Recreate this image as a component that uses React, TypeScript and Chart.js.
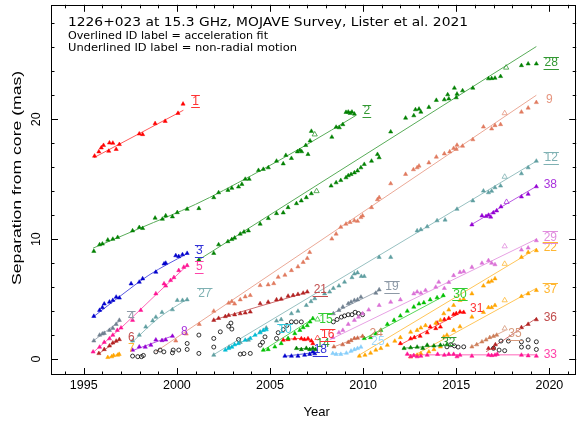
import React, { useEffect, useRef } from 'react';
import { Chart, registerables } from 'chart.js';

Chart.register(...registerables);

type Pt = [number, number];

// Axis ranges (epoch in years, separation in mas)
const X_MIN = 1993.24;
const X_MAX = 2021.44;
const Y_MIN = -1.33;
const Y_MAX = 29.54;
const X_MAJOR = [1995, 2000, 2005, 2010, 2015, 2020];
const Y_MAJOR = [0, 10, 20];

const TITLE = '1226+023 at 15.3 GHz, MOJAVE Survey, Lister et al. 2021';
const NOTE_OVER = 'Overlined ID label = acceleration fit';
const NOTE_UNDER = 'Underlined ID label = non-radial motion';
const X_TITLE = 'Year';
const Y_TITLE = 'Separation from core (mas)';

// ---- component tracks: [epoch, separation] ----
const c01: Pt[] = [[1995.58,16.93],[1995.81,17.29],[1995.94,17.62],[1996.06,17.82],[1996.34,17.34],[1996.38,18.03],[1996.56,18.01],[1996.74,17.49],[1996.91,17.9],[1997.98,18.78],[1998.16,18.73],[1998.83,19.64],[1999.37,19.83],[2000.06,20.5],[2000.33,21.27]];
const f01: Pt[] = [[1995.55,16.8],[2000.35,20.75]];

const c02: Pt[] = [[1995.54,8.99],[1995.85,9.54],[1996.0,9.6],[1996.29,9.93],[1996.56,10.0],[1996.82,10.15],[1997.62,10.7],[1997.98,10.98],[1998.16,10.9],[1998.83,11.76],[1999.22,11.67],[1999.4,11.95],[1999.76,11.87],[2000.02,12.22],[2000.55,12.5],[2001.18,12.56],[2001.98,13.47],[2002.24,13.88],[2002.74,14.08],[2002.95,14.25],[2003.31,14.36],[2003.49,14.58],[2003.67,15.0],[2003.88,15.0],[2004.38,15.74],[2004.64,15.83],[2004.91,15.96],[2005.35,16.51],[2005.71,16.29],[2005.85,16.99],[2006.15,16.74],[2006.47,17.29],[2006.6,17.4],[2006.7,17.3],[2006.92,17.82],[2007.04,17.07],[2007.15,18.2],[2007.22,19.0],[2008.32,18.51],[2008.55,19.34],[2008.72,19.3],[2008.91,19.56],[2009.08,20.58],[2009.2,20.6],[2009.3,20.5],[2009.4,20.6],[2009.53,20.44]];
const o02: Pt[] = [[2007.4,18.73]];
const f02: Pt[] = [[1995.5,9.25],[1998,10.9],[2001,12.9],[2004,15.3],[2007,17.9],[2009.6,20.3]];

const c03: Pt[] = [[1995.54,3.57],[1995.85,4.07],[1996.0,4.3],[1996.1,4.6],[1996.38,4.76],[1996.56,4.9],[1996.74,5.17],[1996.91,5.1],[1997.54,6.28],[1997.98,6.42],[1998.16,6.7],[1998.87,7.25],[1999.31,7.94],[1999.4,8.0],[1999.94,8.63],[2000.1,8.55],[2000.3,8.71],[2000.55,8.82]];
const f03: Pt[] = [[1995.5,3.5],[1997,5.3],[1998.5,7.0],[2000.55,8.8]];

const c04: Pt[] = [[1995.54,1.52],[1995.85,2.0],[1996.0,2.1],[1996.1,2.15],[1996.38,2.4],[1996.56,2.57],[1996.74,2.9],[1996.91,3.24]];
const f04: Pt[] = [[1995.5,1.5],[1996.95,3.2]];

const c05: Pt[] = [[1995.5,0.6],[1995.85,1.0],[1996.1,1.4],[1996.38,1.7],[1996.56,2.0],[1996.8,2.4],[1997.0,2.6],[1997.62,3.24],[1998.06,4.07],[1998.87,5.45],[1999.31,6.28],[1999.4,6.1],[1999.66,6.56],[1999.84,6.8],[2000.1,7.39],[2000.37,7.66],[2000.55,7.8]];
const f05: Pt[] = [[1995.5,0.55],[1997,2.6],[1998.9,5.4],[2000.55,7.8]];

const c06: Pt[] = [[1995.81,0.47],[1996.1,0.8],[1996.38,1.1],[1996.56,1.35],[1996.74,1.5],[1996.91,1.63]];
const f06: Pt[] = [[1995.8,0.45],[1996.95,1.65]];

const c07: Pt[] = [[1996.29,0.14],[1996.5,0.2],[1996.6,0.3],[1996.82,0.33],[1996.9,0.4]];
const f07: Pt[] = [[1996.25,0.1],[1996.95,0.45]];

const c08: Pt[] = [[1997.62,0.75],[1997.98,1.02],[1998.3,1.0],[1998.6,1.16],[1998.87,1.6],[1999.2,1.55],[1999.4,1.6],[1999.76,1.91]];
const f08: Pt[] = [[1997.6,0.7],[1999.8,1.95]];

const c09: Pt[] = [[1999.94,1.52],[2000.5,2.1],[2001.2,2.9],[2001.98,4.0],[2002.78,4.67],[2002.95,4.8],[2003.1,4.6],[2003.4,4.95],[2003.67,5.2],[2003.94,5.31],[2004.47,6.14],[2004.9,6.2],[2005.2,6.3],[2005.44,6.83],[2005.8,7.0],[2006.15,7.39],[2006.5,7.7],[2006.78,8.07],[2007.0,8.4],[2007.13,8.9],[2008.32,10.02],[2008.55,10.43],[2008.8,11.0],[2009.08,11.26],[2009.3,11.4],[2009.53,11.54],[2009.7,11.5],[2009.88,11.81],[2009.97,11.95],[2010.45,12.64],[2010.77,13.3],[2010.86,13.47],[2011.48,14.63],[2012.28,15.41],[2012.7,15.8],[2012.9,15.96],[2013.0,16.1],[2013.53,16.37],[2013.93,16.85],[2014.36,17.12],[2014.65,17.29],[2014.86,17.57],[2015.0,17.5],[2015.04,17.84],[2015.34,17.76],[2015.89,18.3],[2016.46,19.36],[2016.9,19.2],[2017.08,19.48],[2017.38,19.56],[2018.5,20.6],[2018.86,20.94],[2019.3,21.4]];
const o09: Pt[] = [[2017.6,20.5]];
const f09: Pt[] = [[1998.85,0.6],[2019.3,22.0]];

const c10: Pt[] = [[2002.6,0.75],[2002.78,0.89],[2002.95,1.0],[2003.1,1.2],[2003.3,1.3],[2003.67,1.58],[2003.94,1.72],[2004.2,2.0],[2004.47,2.2],[2004.64,2.4],[2004.8,2.45]];
const f10: Pt[] = [[2002.55,0.7],[2004.8,2.45]];

const c12: Pt[] = [[2001.98,0.33],[2002.8,1.0],[2003.4,1.4],[2003.84,1.58],[2004.47,2.27],[2004.8,2.6],[2005.35,3.18],[2005.6,3.3],[2006.15,3.79],[2006.5,4.0],[2006.95,4.48],[2007.2,4.8],[2007.4,5.04],[2007.93,5.45],[2008.2,5.6],[2008.4,5.9],[2008.7,6.1],[2009.0,6.42],[2009.4,6.8],[2009.53,7.11],[2009.7,7.2],[2009.9,6.9],[2010.06,6.9],[2010.86,8.49],[2011.48,8.49],[2012.9,10.7],[2013.1,10.8],[2013.44,11.04],[2013.97,11.54],[2014.4,11.6],[2015.04,12.5],[2015.89,13.2],[2016.46,14.02],[2016.73,13.88],[2016.9,14.0],[2017.08,14.3],[2017.38,14.44],[2018.5,15.46],[2018.86,15.96],[2019.3,16.51]];
const o12: Pt[] = [[2017.6,15.2]];
const f12: Pt[] = [[2001.9,0.3],[2019.3,16.5]];

const c14: Pt[] = [[2006.42,0.89],[2006.68,0.8],[2006.95,0.9],[2007.13,0.8],[2007.3,0.9],[2007.45,0.8]];
const f14: Pt[] = [[2006.4,0.88],[2007.45,0.86]];

const c15: Pt[] = [[2004.64,0.75],[2004.9,0.8],[2005.26,1.02],[2005.6,1.3],[2005.97,1.72],[2006.33,2.13],[2006.6,2.4],[2006.78,2.63],[2007.0,2.8],[2007.15,3.1],[2007.3,3.38]];
const o15: Pt[] = [[2007.55,3.3]];
const f15: Pt[] = [[2004.6,0.7],[2007.35,3.4]];

const c16: Pt[] = [[2005.71,1.58],[2005.97,1.63],[2006.33,1.7],[2006.68,1.7],[2006.85,1.63],[2007.04,1.7],[2007.22,1.52],[2007.3,1.3]];
const o16: Pt[] = [[2007.55,1.75]];
const f16: Pt[] = [[2005.7,1.6],[2006.5,1.72],[2007.3,1.5]];

const c18: Pt[] = [[2005.8,0.25],[2006.15,0.25],[2006.5,0.25],[2006.86,0.33],[2007.13,0.4],[2007.3,0.6],[2007.4,0.45]];
const f18: Pt[] = [[2005.75,0.22],[2007.4,0.55]];

const c19: Pt[] = [[2008.4,3.79],[2008.7,4.07],[2008.91,4.34],[2009.2,4.62],[2009.35,4.75],[2009.53,4.9],[2009.7,4.95],[2009.88,5.17],[2010.68,5.5],[2010.86,5.78]];
const f19: Pt[] = [[2008.35,3.8],[2010.9,5.75]];

const c21: Pt[] = [[2001.98,3.24],[2002.24,3.4],[2002.6,3.55],[2002.78,3.65],[2003.1,3.7],[2003.4,3.79],[2003.67,3.85],[2003.94,3.93],[2004.47,4.62],[2004.9,4.75],[2005.35,4.95],[2005.6,5.0],[2005.97,5.25],[2006.24,5.31],[2006.5,5.4],[2006.78,5.5],[2007.0,5.6]];
const f21: Pt[] = [[2001.95,3.25],[2007.05,5.6]];

const c22: Pt[] = [[2009.8,0.25],[2010.1,0.33],[2010.4,0.5],[2010.68,0.75],[2010.95,0.89],[2011.3,1.16],[2011.7,1.5],[2012.0,1.8],[2012.55,2.25],[2012.9,2.4],[2013.1,2.6],[2013.35,2.8],[2013.9,3.0],[2014.15,3.24],[2014.33,3.79],[2014.6,4.1],[2014.86,4.48],[2015.2,4.9],[2015.4,5.0],[2015.84,5.45],[2016.46,6.1],[2016.73,6.42],[2016.9,6.5],[2017.08,6.7],[2018.5,8.49],[2018.86,8.9],[2019.3,9.05]];
const o22: Pt[] = [[2017.6,7.94]];
const f22: Pt[] = [[2009.7,0.25],[2019.3,9.2]];

const c24: Pt[] = [[2008.43,1.02],[2008.9,1.2],[2009.2,1.4],[2009.35,1.55],[2009.53,1.72],[2009.7,1.75],[2009.97,1.9]];
const f24: Pt[] = [[2008.4,1.0],[2010.0,1.95]];

const c25: Pt[] = [[2008.37,0.47],[2008.55,0.4],[2008.8,0.4],[2009.1,0.5],[2009.35,0.67],[2009.53,0.8],[2009.7,0.89],[2009.88,1.0]];
const f25: Pt[] = [[2008.3,0.45],[2009.0,0.45],[2009.9,1.0]];

const c27: Pt[] = [[1997.62,1.52],[1997.98,2.0],[1998.33,2.68],[1998.7,3.2],[1998.87,3.5],[1999.2,3.9],[1999.76,4.12],[2000.02,4.9],[2000.3,4.9],[2000.55,4.95]];
const f27: Pt[] = [[1997.6,1.4],[1999.0,3.4],[2000.55,5.0]];

const c28: Pt[] = [[2001.18,8.27],[2001.98,8.82],[2002.24,9.54],[2002.74,9.8],[2002.95,9.98],[2003.1,10.1],[2003.4,10.43],[2003.6,10.6],[2003.84,10.7],[2004.47,11.26],[2004.91,11.73],[2005.35,12.14],[2005.71,12.2],[2005.97,12.64],[2006.42,12.97],[2006.68,13.2],[2006.95,13.47],[2007.22,13.8],[2008.28,14.44],[2008.55,14.71],[2008.8,14.9],[2009.08,15.13],[2009.2,15.3],[2009.35,15.4],[2009.53,15.54],[2009.7,15.7],[2009.88,15.96],[2010.06,16.24],[2010.45,16.51],[2010.77,17.07],[2010.86,16.8],[2011.48,18.95],[2012.28,20.1],[2012.72,20.3],[2012.81,20.8],[2013.0,20.85],[2013.1,20.6],[2013.53,21.0],[2013.93,21.58],[2014.36,21.63],[2014.54,22.05],[2014.6,21.7],[2014.9,22.6],[2015.0,21.8],[2015.04,22.1],[2015.34,22.38],[2015.89,22.6],[2016.73,23.38],[2016.9,23.4],[2017.08,23.43],[2017.38,23.57],[2018.5,24.48],[2018.86,24.62],[2019.3,24.62]];
const o28: Pt[] = [[2007.5,14.0],[2017.68,24.3]];
const f28: Pt[] = [[2001.2,8.3],[2019.3,26.06]];

const c29: Pt[] = [[2008.37,1.8],[2008.7,2.2],[2008.91,2.4],[2009.2,2.9],[2009.53,3.24],[2009.75,3.5],[2009.97,3.79],[2010.3,4.1],[2010.86,4.48],[2011.48,4.75],[2012.0,4.95],[2012.72,5.45],[2012.9,5.6],[2013.1,5.5],[2013.35,5.73],[2013.9,6.0],[2014.06,6.42],[2014.36,5.9],[2014.6,6.4],[2014.86,6.97],[2015.2,7.24],[2015.4,7.3],[2015.84,7.66],[2016.38,8.0],[2016.73,8.22],[2016.9,8.0],[2017.08,7.88],[2018.5,9.1],[2018.86,9.27],[2019.3,9.88]];
const o29: Pt[] = [[2017.6,9.4]];
const f29: Pt[] = [[2008.2,1.6],[2019.3,10.0]];

const c30: Pt[] = [[2010.06,1.72],[2010.4,1.8],[2010.68,2.1],[2010.95,2.4],[2011.3,2.9],[2011.66,3.24],[2012.0,3.6],[2012.37,4.0],[2012.72,4.34],[2013.0,4.6],[2013.26,4.7],[2013.6,4.95],[2013.97,5.12],[2014.3,5.3]];
const f30: Pt[] = [[2010.0,1.65],[2014.4,5.3]];

const c31: Pt[] = [[2012.0,1.3],[2012.55,1.7],[2012.75,1.8],[2013.06,1.91],[2013.44,2.2],[2013.6,2.68],[2013.9,2.55],[2013.97,3.01],[2014.15,2.68],[2014.36,3.3],[2014.6,3.4],[2014.86,3.73],[2015.0,3.8],[2015.2,3.93],[2015.4,3.9]];
const f31: Pt[] = [[2012.0,1.2],[2015.4,4.0]];

const c32: Pt[] = [[2012.2,0.89],[2012.55,0.95],[2012.9,1.0],[2013.2,0.9],[2013.44,1.16],[2013.8,1.1],[2014.15,1.16],[2014.5,1.2]];
const f32: Pt[] = [[2012.1,0.9],[2014.5,1.15]];

const c33: Pt[] = [[2012.37,0.41],[2012.55,0.2],[2012.72,0.3],[2012.9,0.2],[2013.1,0.25],[2013.44,0.33],[2014.0,0.4],[2014.36,0.33],[2014.6,0.4],[2014.86,0.4],[2015.04,0.2],[2015.2,0.33],[2015.84,0.25],[2016.73,0.33],[2016.9,0.3],[2017.08,0.33],[2017.2,0.4],[2018.5,0.33],[2018.86,0.28],[2019.3,0.25]];
const f33: Pt[] = [[2012.3,0.35],[2019.3,0.35]];

const c35: Pt[] = [[2015.84,1.02],[2016.1,1.2],[2016.38,1.44],[2016.6,1.6],[2016.8,1.8],[2017.0,1.9],[2017.17,2.0]];
const o35: Pt[] = [[2017.6,2.55]];
const f35: Pt[] = [[2015.8,1.0],[2017.65,2.4]];

const c36: Pt[] = [[2016.73,0.89],[2017.0,0.9],[2017.1,1.2],[2018.5,2.63],[2018.86,2.9],[2019.3,3.29]];
const f36: Pt[] = [[2016.6,0.6],[2019.3,3.4]];

const c37: Pt[] = [[2012.55,0.19],[2012.9,0.33],[2013.1,0.45],[2013.53,0.6],[2013.8,0.8],[2014.15,1.02],[2014.33,1.85],[2014.5,2.0],[2014.86,2.4],[2015.2,2.7],[2015.84,3.51],[2016.46,3.9],[2016.73,4.3],[2016.9,4.3],[2017.08,4.48],[2018.5,5.23],[2018.86,5.45],[2019.3,5.73]];
const o37: Pt[] = [[2017.6,4.9]];
const f37: Pt[] = [[2012.5,0.1],[2019.3,5.9]];

const c38: Pt[] = [[2015.84,11.2],[2016.38,11.95],[2016.6,11.9],[2016.73,12.0],[2016.85,11.85],[2016.99,12.2],[2017.17,12.37],[2017.4,12.7],[2018.5,13.53],[2018.86,13.75],[2019.3,14.38]];
const o38: Pt[] = [[2017.7,13.1]];
const f38: Pt[] = [[2015.8,11.2],[2019.3,14.4]];

// features without a component identification
const unidentified: Pt[] = [[1997.62,0.25],[1997.9,0.2],[1998.1,0.2],[1998.2,0.3],[1998.87,0.6],[1999.1,0.75],[1999.3,0.6],[1999.76,0.52],[1999.8,0.75],[2000.1,0.75],[2000.55,0.8],[2000.55,1.3],[2001.18,0.47],[2001.18,2.0],[2001.98,1.72],[2001.98,1.0],[2002.33,2.27],[2002.78,2.74],[2002.95,2.5],[2002.9,3.0],[2003.31,1.63],[2003.4,0.41],[2003.6,0.45],[2003.94,0.47],[2004.47,1.16],[2004.6,1.4],[2004.73,1.85],[2005.35,1.72],[2005.44,2.2],[2005.71,2.46],[2005.9,2.8],[2006.15,3.1],[2006.4,3.1],[2006.68,3.1],[2008.4,3.1],[2008.6,3.3],[2008.83,3.5],[2009.0,3.6],[2009.2,3.7],[2009.4,3.7],[2009.57,3.9],[2009.75,3.8],[2009.97,3.7],[2014.5,1.02],[2014.7,1.2],[2014.9,1.1],[2015.1,1.0],[2015.4,1.02],[2017.0,0.9],[2017.3,0.75],[2017.6,0.7],[2017.4,1.5],[2017.8,1.5],[2018.5,1.44],[2018.5,1.0],[2018.86,1.6],[2018.86,1.0],[2019.3,1.44],[2019.3,0.8]];

// where each ID label sits: [epoch, separation] of the label centre
const LABEL_AT: Record<string, Pt> = {
  '1': [2001.0, 21.5], '2': [2010.2, 20.7], '3': [2001.2, 9.0], '4': [1997.55, 3.5],
  '5': [2001.2, 7.7], '6': [1997.55, 1.8], '7': [1997.55, 0.9], '8': [2000.4, 2.3],
  '9': [2020.0, 21.6], '10': [2005.8, 2.45], '12': [2020.1, 16.75], '14': [2007.85, 1.3],
  '15': [2008.0, 3.3], '16': [2008.1, 2.0], '18': [2007.7, 0.75], '19': [2011.55, 6.0],
  '21': [2007.7, 5.75], '22': [2020.05, 9.3], '24': [2010.7, 2.15], '25': [2010.8, 1.45],
  '27': [2001.5, 5.45], '28': [2020.1, 24.7], '29': [2020.05, 10.15], '30': [2015.2, 5.4],
  '31': [2016.1, 4.2], '32': [2014.6, 1.35], '33': [2020.05, 0.4], '35': [2018.15, 2.13],
  '36': [2020.05, 3.46], '37': [2020.05, 5.8], '38': [2020.05, 14.58],
};

const RED = '#ff0000';
const GREEN = '#008000';
const LIME = '#00c000';
const BLUE = '#0000cd';
const SLATE = '#708090';
const PINK = '#ff1493';
const FIREBRICK = '#b22222';
const ORANGE = '#ffa500';
const VIOLET = '#9400d3';
const SALMON = '#e07a5f';
const CADET = '#5f9ea0';
const CYAN = '#00bcd4';
const SIENNA = '#cd6a4a';
const SKY = '#87cefa';
const ORCHID = '#da70d6';
const PERU = '#cd7f5a';

interface Comp { id: string; color: string; pts: Pt[]; fit: Pt[]; open?: Pt[]; over?: boolean; under?: boolean }

const COMPS: Comp[] = [
  { id: '1', color: RED, pts: c01, fit: f01, over: true, under: true },
  { id: '2', color: GREEN, pts: c02, fit: f02, open: o02, over: true, under: true },
  { id: '3', color: BLUE, pts: c03, fit: f03, over: true, under: true },
  { id: '4', color: SLATE, pts: c04, fit: f04, over: true },
  { id: '5', color: PINK, pts: c05, fit: f05, over: true, under: true },
  { id: '6', color: FIREBRICK, pts: c06, fit: f06 },
  { id: '7', color: ORANGE, pts: c07, fit: f07 },
  { id: '8', color: VIOLET, pts: c08, fit: f08 },
  { id: '9', color: SALMON, pts: c09, fit: f09, open: o09 },
  { id: '10', color: CYAN, pts: c10, fit: f10, over: true },
  { id: '12', color: CADET, pts: c12, fit: f12, open: o12, over: true, under: true },
  { id: '14', color: GREEN, pts: c14, fit: f14 },
  { id: '15', color: LIME, pts: c15, fit: f15, open: o15, over: true },
  { id: '16', color: RED, pts: c16, fit: f16, open: o16, over: true, under: true },
  { id: '18', color: BLUE, pts: c18, fit: f18, under: true },
  { id: '19', color: SLATE, pts: c19, fit: f19, over: true, under: true },
  { id: '21', color: FIREBRICK, pts: c21, fit: f21, under: true },
  { id: '22', color: ORANGE, pts: c22, fit: f22, open: o22, over: true },
  { id: '24', color: SIENNA, pts: c24, fit: f24 },
  { id: '25', color: SKY, pts: c25, fit: f25 },
  { id: '27', color: CADET, pts: c27, fit: f27, over: true },
  { id: '28', color: GREEN, pts: c28, fit: f28, open: o28, over: true, under: true },
  { id: '29', color: ORCHID, pts: c29, fit: f29, open: o29, over: true, under: true },
  { id: '30', color: LIME, pts: c30, fit: f30, over: true, under: true },
  { id: '31', color: RED, pts: c31, fit: f31 },
  { id: '32', color: GREEN, pts: c32, fit: f32, over: true },
  { id: '33', color: PINK, pts: c33, fit: f33 },
  { id: '35', color: PERU, pts: c35, fit: f35, open: o35, under: true },
  { id: '36', color: FIREBRICK, pts: c36, fit: f36 },
  { id: '37', color: ORANGE, pts: c37, fit: f37, open: o37, over: true },
  { id: '38', color: VIOLET, pts: c38, fit: f38, open: o38 },
];

const xy = (pts: Pt[]) => pts.map(([x, y]) => ({ x, y }));

// mix a hex colour toward white (fit lines are drawn paler than their points)
const tint = (hex: string, f: number) => {
  const n = parseInt(hex.slice(1), 16);
  const mix = (c: number) => Math.round(c + (255 - c) * f);
  return `rgb(${mix((n >> 16) & 255)},${mix((n >> 8) & 255)},${mix(n & 255)})`;
};

const TICK_FONT = '12.5px "Liberation Sans", Arial, sans-serif';
const AXIS_FONT = '13px "Liberation Sans", Arial, sans-serif';
const TITLE_FONT = '13px "DejaVu Sans", sans-serif';
const NOTE_FONT = '10px "DejaVu Sans", sans-serif';
const ID_FONT = '12px "Liberation Sans", Arial, sans-serif';

// draw text stretched horizontally to a given width (wide plotter-style lettering)
const wideText = (ctx: CanvasRenderingContext2D, text: string, x: number, y: number, width: number) => {
  const w = ctx.measureText(text).width;
  ctx.save();
  ctx.translate(x, y);
  ctx.scale(width / w, 1);
  ctx.fillText(text, 0, 0);
  ctx.restore();
};

// Frame with inward ticks, rotated y labels, header text and ID labels
const decorations = {
  id: 'decorations',
  afterDatasetsDraw(chart: any) {
    const { ctx, chartArea: a, scales } = chart;
    const xs = scales.x;
    const ys = scales.y;
    ctx.save();
    ctx.strokeStyle = '#000';
    ctx.lineWidth = 1;
    const seg = (x1: number, y1: number, x2: number, y2: number) => {
      ctx.beginPath(); ctx.moveTo(x1, y1); ctx.lineTo(x2, y2); ctx.stroke();
    };
    ctx.strokeRect(Math.round(a.left) + 0.5, Math.round(a.top) + 0.5, Math.round(a.right - a.left) - 1, Math.round(a.bottom - a.top) - 1);

    for (let yr = Math.ceil(X_MIN); yr <= Math.floor(X_MAX); yr++) {
      const px = Math.round(xs.getPixelForValue(yr)) + 0.5;
      const len = yr % 5 === 0 ? 7 : 3.5;
      seg(px, a.bottom, px, a.bottom - len);
      seg(px, a.top, px, a.top + len);
    }
    for (let v = 0; v <= Y_MAX; v += 2) {
      const py = Math.round(ys.getPixelForValue(v)) + 0.5;
      const len = v % 10 === 0 ? 7 : 3.5;
      seg(a.left, py, a.left + len, py);
      seg(a.right, py, a.right - len, py);
    }

    ctx.fillStyle = '#000';
    ctx.font = TICK_FONT;
    ctx.textAlign = 'center';
    ctx.textBaseline = 'middle';
    X_MAJOR.forEach((yr) => ctx.fillText(String(yr), xs.getPixelForValue(yr), a.bottom + 11));
    Y_MAJOR.forEach((v) => {
      ctx.save();
      ctx.translate(a.left - 14, ys.getPixelForValue(v));
      ctx.rotate(-Math.PI / 2);
      ctx.fillText(String(v), 0, 0);
      ctx.restore();
    });

    ctx.font = AXIS_FONT;
    ctx.fillText(X_TITLE, (a.left + a.right) / 2 + 3, a.bottom + 37);
    ctx.save();
    ctx.translate(a.left - 34, (a.top + a.bottom) / 2 - 12);
    ctx.rotate(-Math.PI / 2);
    ctx.textAlign = 'left';
    const yw = 214;
    wideText(ctx, Y_TITLE, -yw / 2, 0, yw);
    ctx.restore();

    ctx.textAlign = 'left';
    ctx.textBaseline = 'alphabetic';
    ctx.font = TITLE_FONT;
    wideText(ctx, TITLE, a.left + 17, a.top + 21, 400);
    ctx.font = NOTE_FONT;
    wideText(ctx, NOTE_OVER, a.left + 17, a.top + 34.5, 200);
    wideText(ctx, NOTE_UNDER, a.left + 17, a.top + 46, 229);

    // component ID labels
    ctx.font = ID_FONT;
    ctx.textAlign = 'center';
    ctx.textBaseline = 'middle';
    COMPS.forEach((c) => {
      const at = LABEL_AT[c.id];
      if (!at) return;
      const px = xs.getPixelForValue(at[0]);
      const py = ys.getPixelForValue(at[1]);
      ctx.fillStyle = tint(c.color, 0.2);
      ctx.strokeStyle = tint(c.color, 0.2);
      ctx.fillText(c.id, px, py);
      const w = ctx.measureText(c.id).width + 2;
      if (c.over) seg(px - w / 2, Math.round(py - 6) + 0.5, px + w / 2, Math.round(py - 6) + 0.5);
      if (c.under) seg(px - w / 2, Math.round(py + 6) + 0.5, px + w / 2, Math.round(py + 6) + 0.5);
    });
    ctx.restore();
  },
};

export default function App() {
  const canvasRef = useRef<HTMLCanvasElement | null>(null);

  useEffect(() => {
    document.body.style.margin = '0';
    const canvas = canvasRef.current;
    if (!canvas) return;

    const datasets: any[] = [];
    COMPS.forEach((c) => {
      datasets.push({
        type: 'line', data: xy(c.fit), borderColor: tint(c.color, 0.35), borderWidth: 1,
        pointRadius: 0, fill: false, cubicInterpolationMode: 'monotone', order: 3,
      });
      datasets.push({
        type: 'scatter', data: xy(c.pts), pointStyle: 'triangle', pointRadius: 2.4,
        backgroundColor: c.color, borderColor: c.color, borderWidth: 0.5, order: 1,
      });
      if (c.open && c.open.length) {
        datasets.push({
          type: 'scatter', data: xy(c.open), pointStyle: 'triangle', pointRadius: 3,
          backgroundColor: 'rgba(0,0,0,0)', borderColor: tint(c.color, 0.2), borderWidth: 0.8, order: 1,
        });
      }
    });
    datasets.push({
      type: 'scatter', data: xy(unidentified), pointStyle: 'circle', pointRadius: 2,
      backgroundColor: 'rgba(0,0,0,0)', borderColor: '#000', borderWidth: 0.8, order: 2,
    });

    const chart = new Chart(canvas, {
      type: 'scatter',
      data: { datasets },
      options: {
        animation: false,
        responsive: false,
        devicePixelRatio: 1,
        layout: { padding: { left: 51, right: 1, top: 3, bottom: 50 } },
        scales: {
          x: { type: 'linear', min: X_MIN, max: X_MAX, display: false },
          y: { type: 'linear', min: Y_MIN, max: Y_MAX, display: false },
        },
        plugins: { legend: { display: false }, tooltip: { enabled: false } },
      },
      plugins: [decorations],
    } as any);

    return () => chart.destroy();
  }, []);

  return (
    <div style={{ width: 581, height: 425, background: '#fff' }}>
      <canvas ref={canvasRef} width={581} height={425} />
    </div>
  );
}
